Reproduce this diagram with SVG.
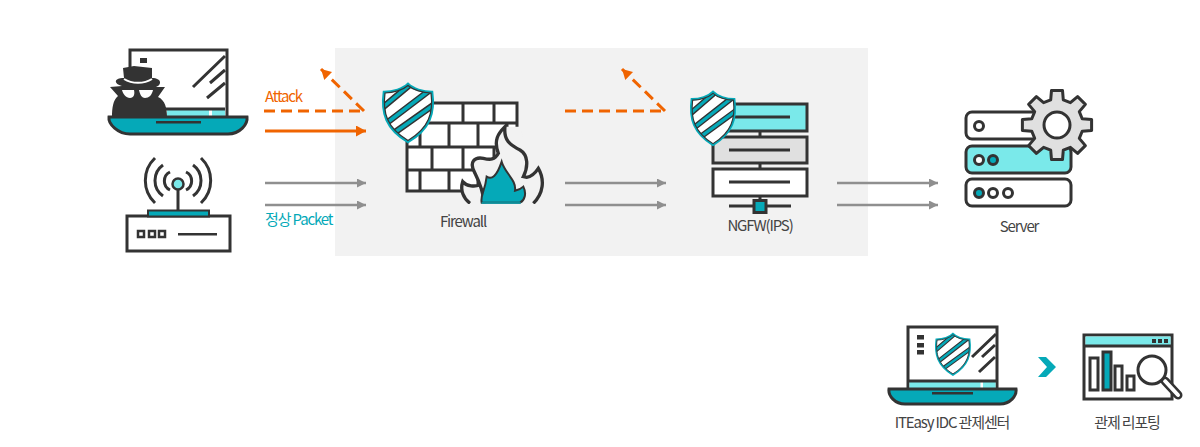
<svg xmlns="http://www.w3.org/2000/svg" width="1200" height="447" viewBox="0 0 1200 447">
<style>
.s{stroke:#333;stroke-width:3;fill:none}
.w{stroke:#333;stroke-width:3;fill:#fff}
.t{fill:#05a9b8}
.c{fill:#7ae9ea}
.d{fill:#333}
.l{font-family:"Noto Sans CJK KR","Noto Sans",sans-serif;font-size:15px;font-weight:400;letter-spacing:-1.15px;fill:#444;text-anchor:middle}
.g{stroke:#8f8f8f;stroke-width:2.5;fill:none;marker-end:url(#ag)}
.o{stroke:#f06400;stroke-width:3;fill:none}
.od{stroke-dasharray:11 6}
</style>
<defs>
<marker id="ag" markerUnits="userSpaceOnUse" markerWidth="10" markerHeight="10" refX="9" refY="4.5" orient="auto"><path d="M0 0L9 4.5L0 9Z" fill="#8f8f8f"/></marker>
<marker id="ao" markerUnits="userSpaceOnUse" markerWidth="12" markerHeight="12" refX="10" refY="5.5" orient="auto"><path d="M0 0L10 5.5L0 11Z" fill="#f06400"/></marker>
<clipPath id="sc"><path d="M26 1C31 6 41 9 50 9C53 30 48 46 26 59C4 46-1 30 2 9C11 9 21 6 26 1Z"/></clipPath>
<g id="shield">
<path d="M26 1C31 6 41 9 50 9C53 30 48 46 26 59C4 46-1 30 2 9C11 9 21 6 26 1Z" fill="#fff"/>
<g clip-path="url(#sc)">
<path d="M0 25L36-5M2 42L52 4M9 52L60 16" stroke="#333" stroke-width="6.500" fill="none"/>
<path d="M0 25L36-5M2 42L52 4M9 52L60 16" stroke="#05a9b8" stroke-width="3.500" fill="none"/>
</g>
<path d="M26 1C31 6 41 9 50 9C53 30 48 46 26 59C4 46-1 30 2 9C11 9 21 6 26 1Z" fill="none" stroke="#05a9b8" stroke-width="2.600"/>
<path d="M26 2.500C31 7 41 10 49 10C51.500 30 47 45 26 57.500C5 45 .5 30 3 10C11 10 21 7 26 2.500Z" fill="none" stroke="#333" stroke-width="1.200"/>
</g>
</defs>
<rect id="zone" x="335" y="48" width="533" height="208" fill="#f2f2f2"/>

<g id="attacker">
<rect class="w" x="130" y="50" width="97" height="68"/>
<rect class="d" x="140" y="58" width="7" height="5"/>
<path class="s" d="M193 87L225 56M210 83L225 70M207 98L225 83" stroke-width="2"/>
<rect class="c" x="167" y="109" width="42" height="7"/>
<rect class="c" x="212" y="109" width="13" height="7"/>
<path class="s" d="M165 109H225" stroke-width="1"/>
<path class="t" d="M109 117H247C248 124 240 134 228 134H130C118 134 108 124 109 117Z" stroke="#333" stroke-width="3"/>
<rect class="d" x="156" y="121" width="45" height="2.500"/>
<path class="d" d="M112 117C112 108 113 100 118 96L110 87L122 86C114 84 113 78 124 78L123 68L134 66L152 68L152 78C162 78 162 85 156 87L165 87L158 97C165 100 167 108 167 117Z"/>
<path d="M124 79C132 84 144 84 152 79" stroke="#fff" stroke-width="2" fill="none"/>
<path d="M122 90H134C135 94 134 98 130 98C126 98 123 94 122 90ZM139 90H153C152 95 149 98 145 98C142 98 140 95 139 90Z" fill="#fff"/>
</g>

<g id="router">
<rect class="w" x="127" y="216" width="103" height="35"/>
<rect class="t" x="148" y="210.500" width="61" height="6" stroke="#333" stroke-width="2"/>
<path class="s" d="M178 190V210"/>
<circle cx="178" cy="184" r="5.500" class="c" stroke="#333" stroke-width="2.500"/>
<path class="s" d="M155 158A31 31 0 0 0 155 203M163 165A19 19 0 0 0 163 196M170 172A10 10 0 0 0 170 190M201 158A31 31 0 0 1 201 203M193 165A19 19 0 0 1 193 196M186 172A10 10 0 0 1 186 190"/>
<g fill="#fff" stroke="#333" stroke-width="2.500">
<rect x="138" y="231" width="6" height="6"/>
<rect x="149" y="231" width="6" height="6"/>
<rect x="159" y="231" width="6" height="6"/>
</g>
<rect class="d" x="178" y="233" width="39" height="2.500"/>
</g>

<g id="connectors">
<path class="o od" d="M264 111H365"/>
<path class="o od" d="M364 111L321 69" marker-end="url(#ao)"/>
<path class="o" d="M265 131H366" marker-end="url(#ao)"/>
<path class="g" d="M265 183H366"/>
<path class="g" d="M265 205H366"/>
<path class="o od" d="M565 111H666"/>
<path class="o od" d="M665 111L622 69" marker-end="url(#ao)"/>
<path class="g" d="M565 183H666"/>
<path class="g" d="M565 205H666"/>
<path class="g" d="M837 183H938"/>
<path class="g" d="M837 205H938"/>
</g>

<g id="firewall">
<rect class="w" x="407" y="103" width="110" height="88"/>
<path class="s" d="M407 123H517M407 147H517M407 170H517M463 103V123M494 103V123M420 123V147M449 123V147M478 123V147M507 123V147M432 147V170M463 147V170M494 147V170M420 170V191M449 170V191M478 170V191"/>
<use href="#shield" x="382" y="83"/>
<g transform="translate(370 70) scale(.33333)">
<path d="M278 335C290 350 315 350 330 345L385 250L405 170H450L470 240H535V405H300C280 385 270 360 278 335Z" fill="#f2f2f2"/>
<path d="M343 400C340 370 330 340 315 310C295 275 315 260 340 265C360 270 375 270 385 250C370 210 385 190 405 170C400 210 420 225 450 240C475 255 475 290 460 320L470 322C485 320 495 310 505 295C525 330 520 370 490 400" fill="#f2f2f2" stroke="#333" stroke-width="10"/>
<path d="M300 400C280 385 270 360 278 335C290 350 315 350 330 345" fill="none" stroke="#333" stroke-width="10"/>
<path class="t" d="M335 398C330 375 345 365 350 320C365 330 380 320 395 275C405 310 440 330 435 362C445 360 455 355 460 350C470 370 465 390 450 398Z" stroke="#333" stroke-width="6"/>
<path d="M290 402H500V412H290Z" fill="#f2f2f2"/>
<path d="M335 399H452" stroke="#05a9b8" stroke-width="4"/>
</g>
<text class="l" x="463" y="227">Firewall</text>
</g>

<g id="ngfw">
<path class="s" d="M760 131V137M760 163V169M760 196V206M729 206H791"/>
<rect class="c" x="713" y="104" width="94" height="27" stroke="#333" stroke-width="3"/>
<rect x="713" y="137" width="94" height="26" fill="#e0e0e0" stroke="#333" stroke-width="3"/>
<rect class="w" x="713" y="169" width="94" height="27"/>
<path class="s" d="M729 117H790M729 150H790M729 182H790" stroke-width="2.500"/>
<rect class="t" x="754" y="200.500" width="12" height="12" stroke="#333" stroke-width="3"/>
<use href="#shield" transform="translate(690 91) scale(.885 .915)"/>
<text class="l" x="760" y="231">NGFW(IPS)</text>
</g>

<g id="server">
<rect class="w" x="966" y="112" width="105" height="27" rx="6"/>
<rect class="c" x="966" y="146" width="105" height="27" rx="6" stroke="#333" stroke-width="3"/>
<rect class="w" x="966" y="179" width="105" height="27" rx="6"/>
<circle class="w" cx="979" cy="126" r="4.500"/>
<circle class="w" cx="979" cy="160" r="4.500"/>
<circle class="t" cx="993" cy="160" r="4.500" stroke="#333" stroke-width="3"/>
<circle class="t" cx="979" cy="193" r="4.500" stroke="#333" stroke-width="3"/>
<circle class="w" cx="993" cy="193" r="4.500"/>
<circle class="w" cx="1008" cy="193" r="4.500"/>
<polygon transform="translate(1057 125)" points="-6.3,-25.2 -5.5,-34.6 5.5,-34.6 6.3,-25.2 13.4,-22.3 20.6,-28.4 28.4,-20.6 22.3,-13.4 25.2,-6.3 34.600,-5.5 34.600,5.5 25.2,6.3 22.3,13.4 28.4,20.6 20.6,28.4 13.4,22.3 6.3,25.2 5.5,34.600 -5.5,34.600 -6.3,25.2 -13.4,22.3 -20.6,28.4 -28.4,20.6 -22.3,13.4 -25.2,6.3 -34.600,5.5 -34.600,-5.5 -25.2,-6.3 -22.3,-13.4 -28.4,-20.6 -20.6,-28.4 -13.4,-22.3" fill="#e0e0e0" stroke="#333" stroke-width="3" stroke-linejoin="round"/>
<circle class="w" cx="1057" cy="125" r="13"/>
<text class="l" x="1019" y="232">Server</text>
</g>

<g id="idc">
<rect class="w" x="908" y="327" width="89" height="63"/>
<rect class="d" x="917" y="335" width="7" height="4.500"/>
<rect class="d" x="917" y="343" width="7" height="4.500"/>
<rect class="d" x="917" y="350" width="7" height="4.500"/>
<path class="s" d="M972 357L996 334M982 357L995 345M979 372L995 357" stroke-width="2"/>
<rect class="c" x="909.500" y="381" width="71" height="7"/>
<rect class="c" x="983" y="381" width="12.500" height="7"/>
<path class="s" d="M909 381H996" stroke-width="1"/>
<use href="#shield" transform="translate(935 333) scale(.69 .71)"/>
<path class="t" d="M889 389H1016C1017 396 1010 404 1000 404H905C895 404 888 396 889 389Z" stroke="#333" stroke-width="3"/>
<rect class="d" x="932" y="392" width="41" height="2.500"/>
<text class="l" x="952" y="428">ITEasy IDC 관제센터</text>
</g>

<polygon id="chevron" class="t" points="1038,357 1046,357 1056,367 1046,377 1038,377 1047,367"/>

<g id="report">
<rect class="w" x="1084" y="335" width="88" height="64"/>
<rect class="c" x="1085.500" y="336.500" width="85" height="9"/>
<path class="s" d="M1084 346H1172" stroke-width="2"/>
<rect class="d" x="1152" y="339" width="4" height="4"/>
<rect class="d" x="1158" y="339" width="4" height="4"/>
<rect class="d" x="1164" y="339" width="4" height="4"/>
<rect class="w" x="1090" y="358" width="8" height="32"/>
<rect class="t" x="1103" y="352" width="8" height="38" stroke="#333" stroke-width="3"/>
<rect class="w" x="1115" y="366" width="7" height="24"/>
<rect class="w" x="1127" y="376" width="7" height="14"/>
<path d="M1165 381L1178 395" stroke="#333" stroke-width="9" stroke-linecap="round"/>
<path d="M1165 381L1178 395" stroke="#fff" stroke-width="4" stroke-linecap="round"/>
<circle class="w" cx="1152" cy="370" r="14"/>
<text class="l" x="1127" y="428">관제 리포팅</text>
</g>

<text class="l" x="265" y="102" style="text-anchor:start;fill:#f06400">Attack</text>
<text class="l" x="265" y="225" style="text-anchor:start;fill:#05a9b8">정상 Packet</text>
</svg>
